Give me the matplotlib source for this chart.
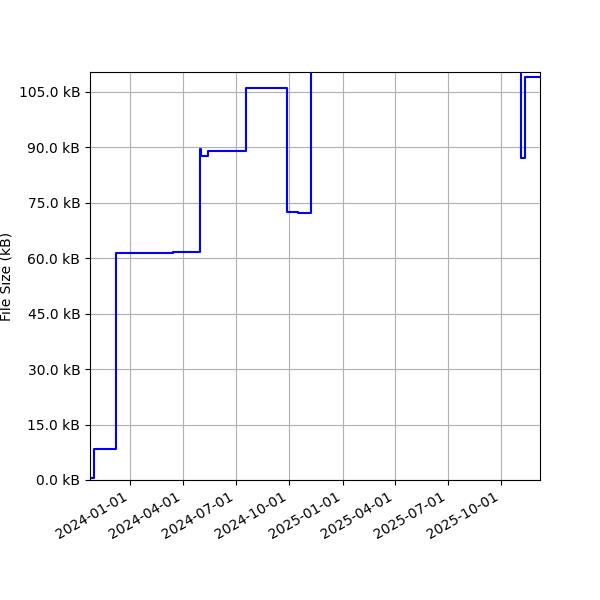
import matplotlib
matplotlib.use("Agg")
import matplotlib.pyplot as plt
import matplotlib.dates as mdates
from matplotlib.ticker import FuncFormatter, MultipleLocator
import pandas as pd

dates = ["2023-10-24", "2023-10-31", "2023-12-08", "2024-03-15", "2024-05-01", "2024-05-02",
         "2024-05-15", "2024-07-19", "2024-09-28", "2024-10-16", "2024-11-08",
         "2025-11-05", "2025-11-12", "2025-12-07"]
sizes = [0.5, 8.3, 61.4, 61.6, 89.5, 87.8, 89.0, 106.0, 72.5, 72.3, 150.0,
         87.0, 109.0, 109.0]

x = pd.to_datetime(dates)
fig, ax = plt.subplots(figsize=(6, 6), dpi=100)
fig.subplots_adjust(left=0.15, right=0.9, top=0.88, bottom=0.2)
ax.plot(x, sizes, color="blue", drawstyle="steps-post", linewidth=1.5)
ax.set_xlim(pd.Timestamp("2023-10-24"), pd.Timestamp("2025-12-07"))
ax.set_ylim(0, 110.4)
ax.yaxis.set_major_locator(MultipleLocator(15))
ax.yaxis.set_major_formatter(FuncFormatter(lambda v, p: f"{v:.1f} kB"))
ax.xaxis.set_major_locator(mdates.MonthLocator(bymonth=[1, 4, 7, 10]))
ax.xaxis.set_major_formatter(mdates.DateFormatter("%Y-%m-%d"))
ax.set_ylabel("File Size (kB)")
ax.grid(True, color="#b0b0b0")
plt.setp(ax.get_xticklabels(), rotation=30, ha="right")
fig.savefig("out.png")
